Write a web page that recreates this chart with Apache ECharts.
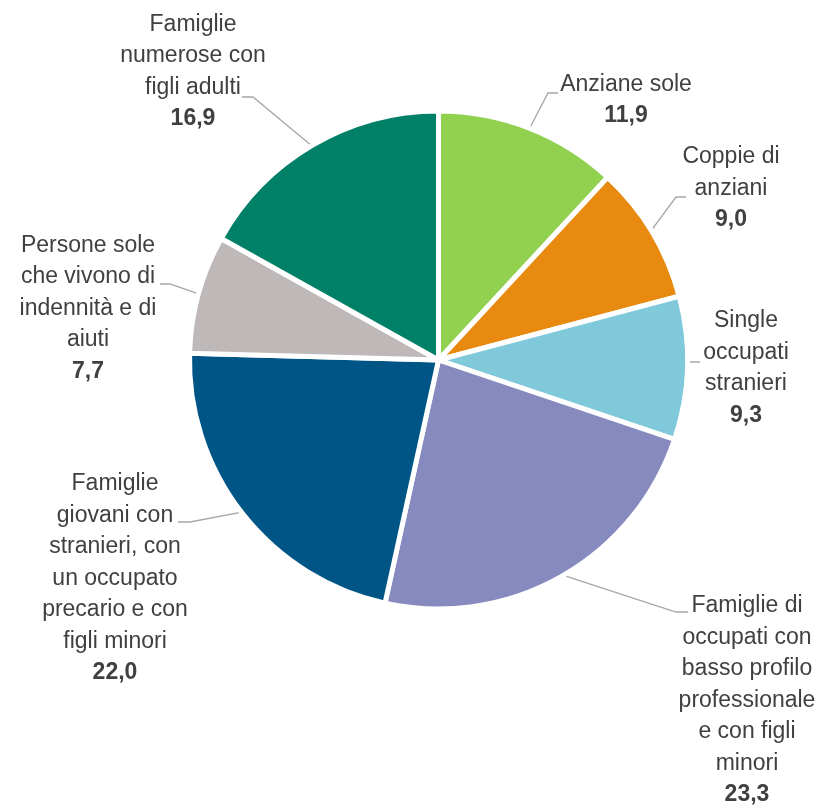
<!DOCTYPE html>
<html>
<head>
<meta charset="utf-8">
<script src="https://cdn.jsdelivr.net/npm/echarts@6/dist/echarts.min.js"></script>
<style>
html,body{margin:0;padding:0;background:#fff;}
#chart{width:818px;height:808px;}
</style>
</head>
<body>
<div id="chart"></div>
<script>
// Data
const categories = [
  "Anziane sole",
  "Coppie di\nanziani",
  "Single\noccupati\nstranieri",
  "Famiglie di\noccupati con\nbasso profilo\nprofessionale\ne con figli\nminori",
  "Famiglie\ngiovani con\nstranieri, con\nun occupato\nprecario e con\nfigli minori",
  "Persone sole\nche vivono di\nindennità e di\naiuti",
  "Famiglie\nnumerose con\nfigli adulti"
];
const values = [11.9, 9.0, 9.3, 23.3, 22.0, 7.7, 16.9];
const colors = ["#92D050", "#E88A10", "#7FC9DA", "#868ABF", "#005587", "#BFB8B8", "#008066"];

// Layout (styles only)
const CX = 438.5, CY = 360, R = 247;
const FONT = "'Liberation Sans Narrow', 'Arial Narrow', 'Liberation Sans', Arial, sans-serif";
const labelPos = [
  {x: 626, y: 100, bend: [548, 93], end: [558, 93]},
  {x: 731, y: 188.5, bend: [676, 197], end: [686, 197]},
  {x: 746, y: 368, bend: [689, 362], end: [700, 362]},
  {x: 747, y: 700.5, bend: [676, 612], end: [688, 612]},
  {x: 115, y: 578.5, bend: [190, 522], end: [178, 522]},
  {x: 88, y: 308.5, bend: [170, 284], end: [160, 284]},
  {x: 193, y: 71.5, bend: [253, 97], end: [242, 97]}
];

const total = values.reduce((a, b) => a + b, 0);
const midAngles = [];
let cum = 0;
values.forEach(v => { midAngles.push((cum + v / 2) / total * Math.PI * 2); cum += v; });

const chart = echarts.init(document.getElementById('chart'), null, {renderer: 'canvas'});
chart.setOption({
  animation: false,
  backgroundColor: '#ffffff',
  series: [{
    type: 'pie',
    center: [CX, CY],
    radius: [0, R + 2],
    startAngle: 90,
    clockwise: true,
    avoidLabelOverlap: false,
    data: categories.map((c, i) => ({name: c, value: values[i], itemStyle: {color: colors[i]}})),
    itemStyle: {borderColor: '#ffffff', borderWidth: 5},
    label: {
      show: true,
      overflow: 'none',
      formatter: p => p.name + '\n{v|' + p.value.toFixed(1).replace('.', ',') + '}',
      fontFamily: FONT,
      fontSize: 23,
      lineHeight: 31.5,
      color: '#404040',
      align: 'center',
      rich: {
        v: {fontWeight: 'bold', fontSize: 23, lineHeight: 31.5, color: '#404040', fontFamily: FONT}
      }
    },
    labelLine: {show: true, lineStyle: {color: '#A6A6A6', width: 1.3}},
    labelLayout: function (params) {
      const i = params.dataIndex;
      const lp = labelPos[i];
      const a = midAngles[i];
      const start = [CX + (R - 1) * Math.sin(a), CY - (R - 1) * Math.cos(a)];
      return {
        x: lp.x, y: lp.y, align: 'center', verticalAlign: 'middle',
        labelLinePoints: [start, lp.bend, lp.end]
      };
    }
  }]
});
</script>
</body>
</html>
